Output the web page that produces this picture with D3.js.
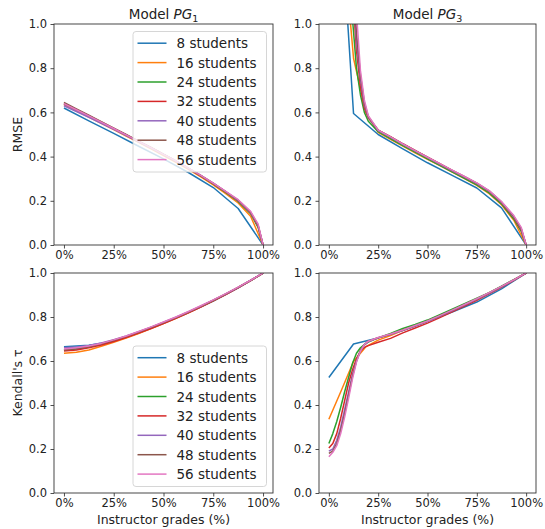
<!DOCTYPE html>
<html>
<head>
<meta charset="utf-8">
<script src="https://cdn.jsdelivr.net/npm/d3@7"></script>
<style>
  body { margin: 0; background: #fff; }
  svg { font-family: "DejaVu Sans", sans-serif; }
</style>
</head>
<body>
<svg id="chart" width="545" height="529"></svg>
<script>
// number of students per series
const students = [8, 16, 24, 32, 40, 48, 56];
const colors = ["#1f77b4", "#ff7f0e", "#2ca02c", "#d62728", "#9467bd", "#8c564b", "#e377c2"];

// instructor grades (%) at which series were read
const grid8 = [0, 12.5, 25, 37.5, 50, 62.5, 75, 87.5, 100];
const grid16 = [0, 6.25, 12.5, 18.75, 25, 31.25, 37.5, 43.75, 50, 56.25, 62.5, 68.75, 75, 81.25, 87.5, 93.75, 100];
const gridPG1 = [0, 6.25, 12.5, 18.75, 25, 31.25, 37.5, 43.75, 50, 56.25, 62.5, 68.75, 75, 81.25, 87.5, 93.75, 97.5, 100];
const gridPG3 = [0, 2, 4, 6, 8, 10, 12, 14, 16, 18, 20, 25, 31.25, 37.5, 43.75, 50, 56.25, 62.5, 68.75, 75, 81.25, 87.5, 93.75, 97.5, 100];

const xTicks = [0, 25, 50, 75, 100];
const yTicks = [0, 0.2, 0.4, 0.6, 0.8, 1.0];

// Model PG1 - RMSE
const rmsePG1_8  = [0.62, 0.562, 0.505, 0.447, 0.39, 0.328, 0.26, 0.165, 0];
const rmsePG1_16 = [0.635, 0.607, 0.579, 0.551, 0.522, 0.493, 0.464, 0.435, 0.405, 0.374, 0.342, 0.308, 0.272, 0.232, 0.19, 0.13, 0.052, 0];
const rmsePG1_24 = [0.64, 0.612, 0.584, 0.556, 0.527, 0.498, 0.469, 0.44, 0.41, 0.379, 0.347, 0.313, 0.277, 0.238, 0.197, 0.142, 0.08, 0];
const rmsePG1_32 = [0.64, 0.612, 0.584, 0.556, 0.527, 0.498, 0.469, 0.44, 0.41, 0.379, 0.347, 0.313, 0.278, 0.24, 0.2, 0.145, 0.085, 0];
const rmsePG1_40 = [0.63, 0.604, 0.578, 0.551, 0.523, 0.495, 0.467, 0.438, 0.409, 0.379, 0.347, 0.314, 0.279, 0.241, 0.201, 0.147, 0.088, 0];
const rmsePG1_48 = [0.645, 0.616, 0.587, 0.558, 0.529, 0.5, 0.47, 0.441, 0.411, 0.38, 0.348, 0.315, 0.28, 0.242, 0.203, 0.149, 0.09, 0];
const rmsePG1_56 = [0.64, 0.612, 0.584, 0.556, 0.527, 0.498, 0.469, 0.44, 0.41, 0.38, 0.348, 0.315, 0.28, 0.243, 0.205, 0.152, 0.095, 0];

// Model PG3 - RMSE
const rmsePG3_8  = [2.34, 0.595, 0.5, 0.435, 0.372, 0.315, 0.258, 0.168, 0];
const rmsePG3_16 = [3.0, 1.49, 0.845, 0.6, 0.51, 0.478, 0.447, 0.417, 0.388, 0.359, 0.33, 0.3, 0.27, 0.232, 0.182, 0.112, 0];
const rmsePG3_24 = [3.2, 2.9, 2.6, 2.2, 1.8, 1.4, 1.02, 0.8, 0.68, 0.6, 0.56, 0.513, 0.482, 0.45, 0.42, 0.39, 0.36, 0.331, 0.302, 0.272, 0.236, 0.186, 0.118, 0.062, 0];
const rmsePG3_32 = [3.4, 3.1, 2.8, 2.4, 2.0, 1.55, 1.15, 0.88, 0.72, 0.62, 0.575, 0.52, 0.49, 0.458, 0.428, 0.398, 0.368, 0.338, 0.309, 0.279, 0.243, 0.192, 0.125, 0.068, 0];
const rmsePG3_40 = [3.5, 3.2, 2.9, 2.5, 2.05, 1.6, 1.2, 0.92, 0.75, 0.635, 0.578, 0.518, 0.487, 0.455, 0.425, 0.395, 0.365, 0.336, 0.307, 0.278, 0.243, 0.193, 0.127, 0.072, 0];
const rmsePG3_48 = [3.6, 3.3, 3.0, 2.6, 2.1, 1.65, 1.25, 0.96, 0.77, 0.645, 0.58, 0.52, 0.489, 0.457, 0.427, 0.397, 0.367, 0.338, 0.309, 0.28, 0.245, 0.195, 0.13, 0.075, 0];
const rmsePG3_56 = [3.7, 3.4, 3.1, 2.7, 2.2, 1.7, 1.3, 1.05, 0.79, 0.655, 0.585, 0.52, 0.489, 0.457, 0.427, 0.397, 0.368, 0.339, 0.31, 0.281, 0.246, 0.197, 0.133, 0.08, 0];

// Model PG1 - Kendall's tau
const tauPG1_8  = [0.665, 0.672, 0.69, 0.727, 0.772, 0.82, 0.872, 0.933, 1.0];
const tauPG1_16 = [0.635, 0.64, 0.65, 0.667, 0.685, 0.704, 0.725, 0.747, 0.77, 0.794, 0.819, 0.846, 0.874, 0.903, 0.934, 0.966, 0.986, 1.0];
const tauPG1_24 = [0.65, 0.655, 0.664, 0.677, 0.693, 0.711, 0.731, 0.752, 0.774, 0.797, 0.822, 0.848, 0.875, 0.904, 0.934, 0.966, 0.986, 1.0];
const tauPG1_32 = [0.645, 0.65, 0.66, 0.673, 0.689, 0.707, 0.727, 0.748, 0.77, 0.794, 0.819, 0.845, 0.873, 0.902, 0.933, 0.965, 0.986, 1.0];
const tauPG1_40 = [0.66, 0.664, 0.671, 0.682, 0.697, 0.714, 0.733, 0.754, 0.776, 0.799, 0.823, 0.849, 0.876, 0.904, 0.934, 0.966, 0.986, 1.0];
const tauPG1_48 = [0.65, 0.656, 0.665, 0.678, 0.694, 0.712, 0.732, 0.753, 0.775, 0.798, 0.823, 0.849, 0.876, 0.905, 0.935, 0.966, 0.986, 1.0];
const tauPG1_56 = [0.655, 0.66, 0.668, 0.68, 0.696, 0.714, 0.734, 0.755, 0.777, 0.8, 0.825, 0.851, 0.878, 0.906, 0.936, 0.967, 0.987, 1.0];

// Model PG3 - Kendall's tau
const tauPG3_8  = [0.525, 0.677, 0.705, 0.74, 0.78, 0.823, 0.868, 0.928, 1.0];
const tauPG3_16 = [0.335, 0.465, 0.598, 0.665, 0.695, 0.716, 0.74, 0.761, 0.783, 0.807, 0.831, 0.857, 0.882, 0.909, 0.938, 0.968, 1.0];
const tauPG3_24 = [0.225, 0.27, 0.325, 0.39, 0.46, 0.525, 0.59, 0.635, 0.66, 0.675, 0.686, 0.705, 0.725, 0.748, 0.766, 0.786, 0.81, 0.835, 0.86, 0.885, 0.911, 0.94, 0.97, 0.988, 1.0];
const tauPG3_32 = [0.205, 0.225, 0.27, 0.34, 0.42, 0.5, 0.56, 0.61, 0.645, 0.662, 0.67, 0.685, 0.703, 0.728, 0.75, 0.772, 0.797, 0.823, 0.85, 0.876, 0.905, 0.935, 0.967, 0.987, 1.0];
const tauPG3_40 = [0.19, 0.2, 0.24, 0.3, 0.38, 0.46, 0.54, 0.6, 0.645, 0.672, 0.688, 0.705, 0.72, 0.738, 0.758, 0.779, 0.803, 0.828, 0.854, 0.88, 0.908, 0.937, 0.968, 0.987, 1.0];
const tauPG3_48 = [0.18, 0.19, 0.225, 0.285, 0.36, 0.445, 0.53, 0.6, 0.648, 0.675, 0.69, 0.706, 0.722, 0.74, 0.76, 0.781, 0.805, 0.83, 0.856, 0.882, 0.91, 0.938, 0.969, 0.988, 1.0];
const tauPG3_56 = [0.165, 0.185, 0.215, 0.27, 0.345, 0.43, 0.52, 0.595, 0.645, 0.675, 0.69, 0.707, 0.723, 0.741, 0.761, 0.782, 0.806, 0.831, 0.857, 0.883, 0.911, 0.939, 0.969, 0.988, 1.0];

const panels = [
  { box: [54, 273, 24, 245], title: "1", ylabel: "RMSE", legend: "top",
    series: [[grid8, rmsePG1_8], [gridPG1, rmsePG1_16], [gridPG1, rmsePG1_24], [gridPG1, rmsePG1_32],
             [gridPG1, rmsePG1_40], [gridPG1, rmsePG1_48], [gridPG1, rmsePG1_56]] },
  { box: [319, 536, 24, 245], title: "3",
    series: [[grid8, rmsePG3_8], [grid16, rmsePG3_16], [gridPG3, rmsePG3_24], [gridPG3, rmsePG3_32],
             [gridPG3, rmsePG3_40], [gridPG3, rmsePG3_48], [gridPG3, rmsePG3_56]] },
  { box: [54, 273, 273, 493], ylabel: "Kendall's τ", xlabel: true, legend: "bottom",
    series: [[grid8, tauPG1_8], [gridPG1, tauPG1_16], [gridPG1, tauPG1_24], [gridPG1, tauPG1_32],
             [gridPG1, tauPG1_40], [gridPG1, tauPG1_48], [gridPG1, tauPG1_56]] },
  { box: [319, 536, 273, 493], xlabel: true,
    series: [[grid8, tauPG3_8], [grid16, tauPG3_16], [gridPG3, tauPG3_24], [gridPG3, tauPG3_32],
             [gridPG3, tauPG3_40], [gridPG3, tauPG3_48], [gridPG3, tauPG3_56]] }
];

const svg = d3.select("#chart");

panels.forEach(function(p, i) {
  const [x0, x1, y0, y1] = p.box;
  const x = d3.scaleLinear().domain([-5, 105]).range([x0, x1]);
  const y = d3.scaleLinear().domain([0, 1]).range([y1, y0]);

  const g = svg.append("g");

  g.append("clipPath").attr("id", "clip" + i)
    .append("rect").attr("x", x0).attr("y", y0).attr("width", x1 - x0).attr("height", y1 - y0);

  const line = d3.line().x(d => x(d[0])).y(d => y(d[1]));

  g.append("g").attr("clip-path", "url(#clip" + i + ")")
    .selectAll("path")
    .data(p.series)
    .enter().append("path")
      .attr("d", s => line(d3.zip(s[0], s[1])))
      .attr("fill", "none")
      .attr("stroke", (s, j) => colors[j])
      .attr("stroke-width", 1.5)
      .attr("stroke-linejoin", "round");

  // axes
  const xAxis = g.append("g").attr("transform", `translate(0,${y1})`)
    .call(d3.axisBottom(x).tickValues(xTicks).tickFormat(d => d + "%").tickSize(3.5).tickPadding(2.5));
  const yAxis = g.append("g").attr("transform", `translate(${x0},0)`)
    .call(d3.axisLeft(y).tickValues(yTicks).tickFormat(d3.format(".1f")).tickSize(3.5).tickPadding(3.5));
  [xAxis, yAxis].forEach(a => {
    a.select(".domain").remove();
    a.selectAll("line").attr("stroke", "#222").attr("stroke-width", 0.8);
    a.selectAll("text").attr("font-size", 11.5).attr("fill", "#222")
      .attr("font-family", "DejaVu Sans, sans-serif");
  });

  g.append("rect")
    .attr("x", x0).attr("y", y0).attr("width", x1 - x0).attr("height", y1 - y0)
    .attr("fill", "none").attr("stroke", "#333").attr("stroke-width", 0.9);

  if (p.title) {
    const t = g.append("text")
      .attr("x", (x0 + x1) / 2).attr("y", y0 - 5)
      .attr("text-anchor", "middle").attr("font-size", 13.5).attr("fill", "#222");
    t.append("tspan").text("Model ");
    t.append("tspan").attr("font-style", "italic").text("PG");
    t.append("tspan").attr("font-size", 9.5).attr("dy", 2.5).text(p.title);
  }

  if (p.ylabel) {
    g.append("text")
      .attr("transform", `translate(${x0 - 37},${(y0 + y1) / 2}) rotate(-90)`)
      .attr("text-anchor", "middle").attr("dominant-baseline", "central")
      .attr("font-size", 12.5).attr("fill", "#222")
      .text(p.ylabel);
  }

  if (p.xlabel) {
    g.append("text")
      .attr("x", (x0 + x1) / 2).attr("y", y1 + 31)
      .attr("text-anchor", "middle")
      .attr("font-size", 12.5).attr("fill", "#222")
      .text("Instructor grades (%)");
  }

  if (p.legend) {
    const lw = 133.5, lh = 140.5;
    const lx = x1 - 6.5 - lw;
    const ly = p.legend === "top" ? y0 + 7.5 : y1 - 6.5 - lh;
    const leg = g.append("g");
    leg.append("rect")
      .attr("x", lx).attr("y", ly).attr("width", lw).attr("height", lh)
      .attr("rx", 3).attr("fill", "#fff").attr("fill-opacity", 0.8)
      .attr("stroke", "#ccc").attr("stroke-width", 0.8);
    const rows = leg.selectAll("g.row").data(students).enter().append("g")
      .attr("transform", (d, j) => `translate(${lx},${ly + 11.7 + j * 19.4})`);
    rows.append("line")
      .attr("x1", 4.5).attr("x2", 33.5)
      .attr("stroke", (d, j) => colors[j]).attr("stroke-width", 1.5);
    rows.append("text")
      .attr("x", 43.5).attr("dominant-baseline", "central")
      .attr("font-size", 13.5).attr("fill", "#222")
      .text(d => d + " students");
  }
});
</script>
</body>
</html>
